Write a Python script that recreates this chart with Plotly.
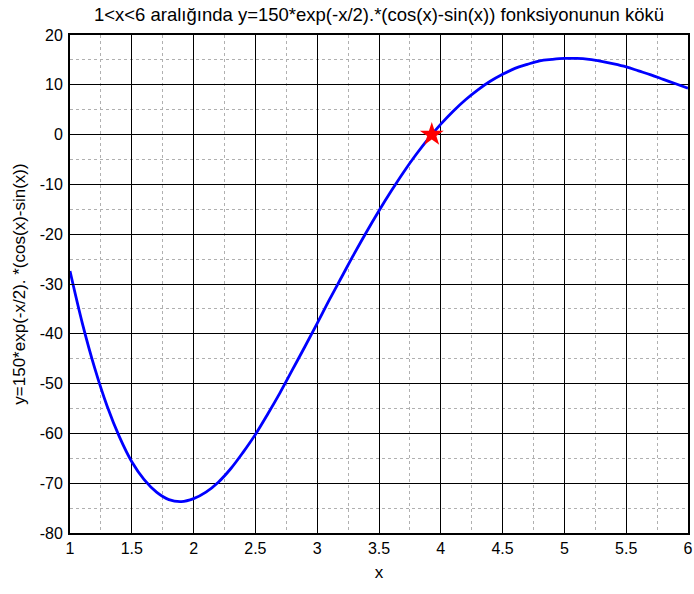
import plotly.graph_objects as go

# values
x_vals = [1.0, 1.1, 1.2, 1.3, 1.4, 1.5, 1.6, 1.7, 1.8, 1.9, 2.0, 2.1, 2.2, 2.3, 2.4, 2.5,
          2.6, 2.7, 2.8, 2.9, 3.0, 3.1, 3.2, 3.3, 3.4, 3.5, 3.6, 3.7, 3.8, 3.9, 4.0, 4.1,
          4.2, 4.3, 4.4, 4.5, 4.6, 4.7, 4.8, 4.9, 5.0, 5.1, 5.2, 5.3, 5.4, 5.5, 5.6, 5.7,
          5.8, 5.9, 6.0]
y_vals = [-27.4, -37.9, -46.9, -54.5, -60.7, -65.7, -69.3, -71.8, -73.3, -73.7, -73.1,
          -71.8, -69.8, -67.1, -63.8, -60.2, -56.1, -51.8, -47.2, -42.6, -37.9, -33.1,
          -28.5, -23.9, -19.5, -15.3, -11.3, -7.5, -4.0, -0.8, 2.1, 4.7, 7.0, 9.0, 10.7,
          12.1, 13.3, 14.1, 14.8, 15.1, 15.3, 15.3, 15.1, 14.7, 14.2, 13.6, 12.8, 12.0,
          11.1, 10.2, 9.3]
root_x = [3.927]
root_y = [0.0]

x_ticks = [1, 1.5, 2, 2.5, 3, 3.5, 4, 4.5, 5, 5.5, 6]
y_ticks = [20, 10, 0, -10, -20, -30, -40, -50, -60, -70, -80]

title_text = "1<x<6 aralığında y=150*exp(-x/2).*(cos(x)-sin(x)) fonksiyonunun kökü"
x_label = "x"
y_label = "y=150*exp(-x/2). *(cos(x)-sin(x))"

fig = go.Figure()
fig.add_trace(go.Scatter(x=x_vals, y=y_vals, mode="lines",
                         line=dict(color="#0000ff", width=2.8, shape="spline"),
                         showlegend=False, cliponaxis=False, hoverinfo="skip"))
fig.add_trace(go.Scatter(x=root_x, y=root_y, mode="markers",
                         marker=dict(symbol="star", size=18, color="#ff0000",
                                     line=dict(width=0)),
                         showlegend=False, cliponaxis=False, hoverinfo="skip"))

font_family = "Liberation Sans, Arial, sans-serif"
fig.update_layout(
    width=694, height=594,
    margin=dict(l=70, r=6, t=35, b=61, autoexpand=False),
    paper_bgcolor="white", plot_bgcolor="white",
    font=dict(family=font_family, size=16, color="black"),
    title=dict(text=title_text, x=0.5, xref="paper", xanchor="center",
               y=1 - 15 / 594, yref="container", yanchor="middle",
               font=dict(family=font_family, size=18.5, color="black"),
               automargin=False),
)
fig.update_xaxes(
    range=[1, 6], tickvals=x_ticks, ticktext=[str(t) for t in x_ticks],
    ticks="inside", ticklen=4, tickcolor="black",
    showline=True, linecolor="black", linewidth=1.8, mirror="ticks",
    showgrid=True, gridcolor="black", gridwidth=1,
    minor=dict(dtick=0.25, showgrid=True, gridcolor="#b0b0b0", griddash="dot", gridwidth=1),
    zeroline=False, automargin=False,
    title=dict(text=x_label, font=dict(size=17), standoff=10),
    tickfont=dict(size=16),
)
fig.update_yaxes(
    range=[-80, 20], tickvals=y_ticks, ticktext=[str(t) for t in y_ticks],
    ticks="inside", ticklen=4, tickcolor="black",
    showline=True, linecolor="black", linewidth=1.8, mirror="ticks",
    showgrid=True, gridcolor="black", gridwidth=1,
    minor=dict(dtick=5, showgrid=True, gridcolor="#b0b0b0", griddash="dot", gridwidth=1),
    zeroline=False, automargin=False, ticklabelstandoff=2,
    title=dict(text=y_label, font=dict(size=17), standoff=10),
    tickfont=dict(size=16),
)

fig.write_html("out.html", config={"displayModeBar": False},
               post_script="document.body.style.margin='0';")
